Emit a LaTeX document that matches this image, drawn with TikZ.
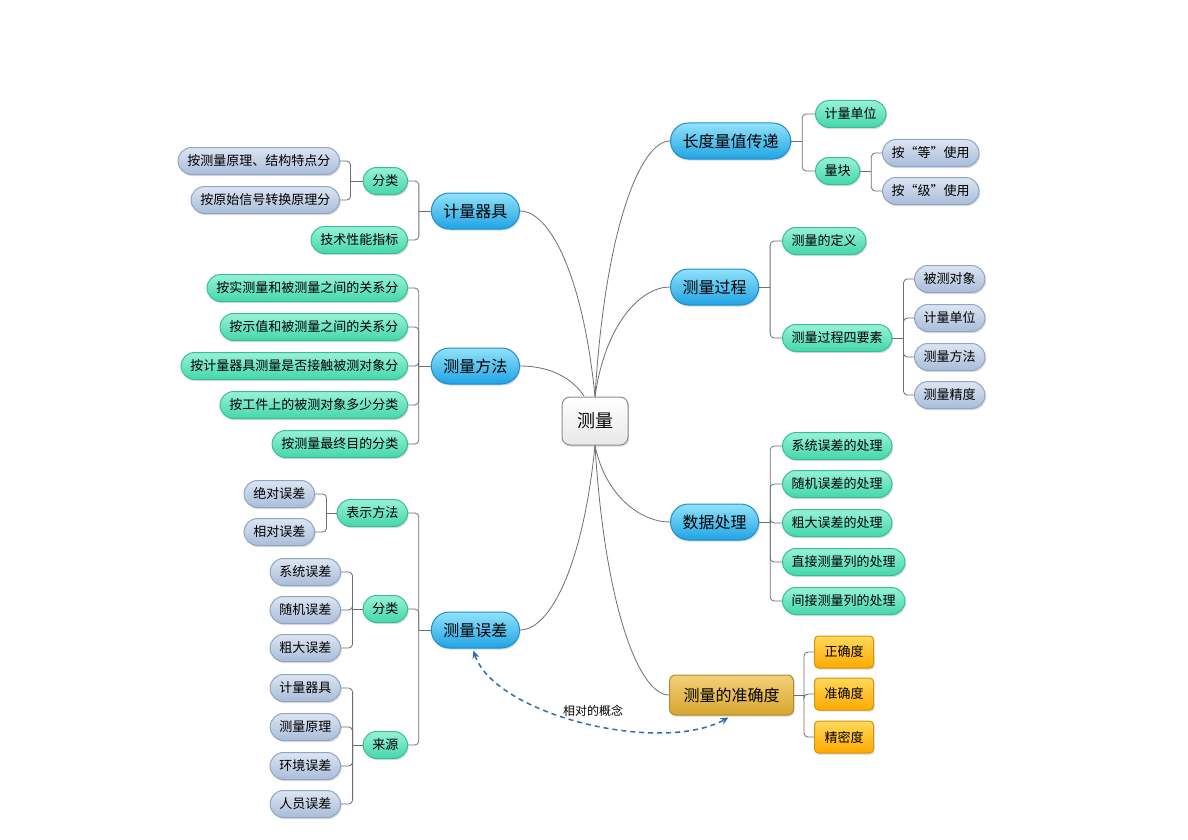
\documentclass[tikz,border=0pt]{standalone}
\usepackage{fontspec}
\newfontfamily\cjk{Noto Sans CJK SC}
\usetikzlibrary{shapes.misc,shadows,arrows.meta}
\definecolor{lnc}{HTML}{6E6E6E}
\definecolor{bluetop}{HTML}{92E2FA}
\definecolor{bluebot}{HTML}{1FA3E4}
\definecolor{blueln}{HTML}{1C8ECF}
\definecolor{greentop}{HTML}{98F2D6}
\definecolor{greenbot}{HTML}{44D6AA}
\definecolor{greenln}{HTML}{38BF95}
\definecolor{greytop}{HTML}{DCE5F2}
\definecolor{greybot}{HTML}{A9BCD9}
\definecolor{greyln}{HTML}{8FA5C6}
\definecolor{orgtop}{HTML}{FFD85A}
\definecolor{orgbot}{HTML}{FFAA00}
\definecolor{orgln}{HTML}{D3930C}
\definecolor{goldtop}{HTML}{F3D07A}
\definecolor{goldbot}{HTML}{D7A62E}
\definecolor{goldln}{HTML}{B08A30}
\definecolor{ctrln}{HTML}{8E8E8E}
\definecolor{dashc}{HTML}{2A6FAE}
\tikzset{
  base/.style={text=black, line width=1pt, inner ysep=0pt,
    drop shadow={opacity=0.28, shadow xshift=1.2pt, shadow yshift=-1.6pt}},
  bluebox/.style={base, rounded rectangle, minimum height=36pt, inner xsep=10.5pt,
    font=\cjk\fontsize{16}{18}\selectfont, top color=bluetop, bottom color=bluebot, draw=blueln},
  greenbox/.style={base, rounded rectangle, minimum height=27pt, inner xsep=7.8pt,
    font=\cjk\fontsize{13}{15}\selectfont, top color=greentop, bottom color=greenbot, draw=greenln},
  greybox/.style={base, rounded rectangle, minimum height=27pt, inner xsep=7.8pt,
    font=\cjk\fontsize{13}{15}\selectfont, top color=greytop, bottom color=greybot, draw=greyln},
  orgbox/.style={base, rectangle, rounded corners=4pt, minimum height=32pt, inner xsep=10pt,
    font=\cjk\fontsize{13}{15}\selectfont, top color=orgtop, bottom color=orgbot, draw=orgln},
  goldbox/.style={base, rectangle, rounded corners=6pt, minimum height=40pt, inner xsep=14pt,
    font=\cjk\fontsize{16}{18}\selectfont, top color=goldtop, bottom color=goldbot, draw=goldln},
  ctrbox/.style={base, rectangle, rounded corners=8pt, minimum height=48pt, minimum width=66pt,
    font=\cjk\fontsize{18}{20}\selectfont, top color=white, bottom color=black!9, draw=ctrln},
  conn/.style={draw=lnc, line width=0.8pt, rounded corners=4pt},
  mainconn/.style={draw=lnc, line width=0.8pt},
}
\begin{document}
\begin{tikzpicture}[x=1pt,y=-1pt]
\useasboundingbox (0,0) rectangle (1188,840);
% center
\node[ctrbox] (c) at (595,421) {测量};
\coordinate (cm) at (584,396);
% right side
\node[bluebox, anchor=west] (r1) at (670,141) {长度量值传递};
\node[greenbox, anchor=west] (r1a) at (815,114) {计量单位};
\node[greenbox, anchor=west] (r1b) at (815,171) {量块};
\node[greybox, anchor=west] (r1b1) at (882,153) {按“等”使用};
\node[greybox, anchor=west] (r1b2) at (882,191) {按“级”使用};

\node[bluebox, anchor=west] (r2) at (670,287) {测量过程};
\node[greenbox, anchor=west] (r2a) at (782,241) {测量的定义};
\node[greenbox, anchor=west] (r2b) at (782,338) {测量过程四要素};
\node[greybox, anchor=west] (r2b1) at (914,279) {被测对象};
\node[greybox, anchor=west] (r2b2) at (914,318) {计量单位};
\node[greybox, anchor=west] (r2b3) at (914,357) {测量方法};
\node[greybox, anchor=west] (r2b4) at (914,395) {测量精度};

\node[bluebox, anchor=west] (r3) at (670,522) {数据处理};
\node[greenbox, anchor=west] (r3a) at (782,446) {系统误差的处理};
\node[greenbox, anchor=west] (r3b) at (782,484) {随机误差的处理};
\node[greenbox, anchor=west] (r3c) at (782,523) {粗大误差的处理};
\node[greenbox, anchor=west] (r3d) at (782,562) {直接测量列的处理};
\node[greenbox, anchor=west] (r3e) at (782,601) {间接测量列的处理};

\node[goldbox, anchor=west] (r4) at (669,695) {测量的准确度};
\node[orgbox, anchor=west] (r4a) at (814,652) {正确度};
\node[orgbox, anchor=west] (r4b) at (814,694) {准确度};
\node[orgbox, anchor=west] (r4c) at (814,737) {精密度};

% left side
\node[bluebox, anchor=east] (l1) at (520,211) {计量器具};
\node[greenbox, anchor=east] (l1a) at (408,181) {分类};
\node[greenbox, anchor=east] (l1b) at (408,240) {技术性能指标};
\node[greybox, anchor=east] (l1a1) at (340,161) {按测量原理、结构特点分};
\node[greybox, anchor=east] (l1a2) at (340,200) {按原始信号转换原理分};

\node[bluebox, anchor=east] (l2) at (520,366) {测量方法};
\node[greenbox, anchor=east] (l2a) at (408,288) {按实测量和被测量之间的关系分};
\node[greenbox, anchor=east] (l2b) at (408,327) {按示值和被测量之间的关系分};
\node[greenbox, anchor=east] (l2c) at (408,366) {按计量器具测量是否接触被测对象分};
\node[greenbox, anchor=east] (l2d) at (408,405) {按工件上的被测对象多少分类};
\node[greenbox, anchor=east] (l2e) at (408,444) {按测量最终目的分类};

\node[bluebox, anchor=east] (l3) at (520,630) {测量误差};
\node[greenbox, anchor=east] (l3a) at (408,513) {表示方法};
\node[greenbox, anchor=east] (l3b) at (408,609) {分类};
\node[greenbox, anchor=east] (l3c) at (408,745) {来源};
\node[greybox, anchor=east] (l3a1) at (315,494) {绝对误差};
\node[greybox, anchor=east] (l3a2) at (315,532) {相对误差};
\node[greybox, anchor=east] (l3b1) at (341,572) {系统误差};
\node[greybox, anchor=east] (l3b2) at (341,610) {随机误差};
\node[greybox, anchor=east] (l3b3) at (341,648) {粗大误差};
\node[greybox, anchor=east] (l3c1) at (341,688) {计量器具};
\node[greybox, anchor=east] (l3c2) at (341,727) {测量原理};
\node[greybox, anchor=east] (l3c3) at (341,766) {环境误差};
\node[greybox, anchor=east] (l3c4) at (341,804) {人员误差};

% main connectors
\draw[mainconn] (c.north) .. controls (605,230) and (640,141) .. (r1.west);
\draw[mainconn] (c.north) .. controls (605,325) and (640,287) .. (r2.west);
\draw[mainconn] (c.south) .. controls (605,495) and (640,522) .. (r3.west);
\draw[mainconn] (c.south) .. controls (605,607) and (639,695) .. (r4.west);
\draw[mainconn] (c.north) .. controls (583,276) and (550,211) .. (l1.east);
\draw[mainconn] (l2.east) .. controls (550,366) and (572,378) .. (cm);
\draw[mainconn] (c.south) .. controls (583,566) and (550,630) .. (l3.east);

% right branches
\draw[mainconn] (r1.east) -- ++(11,0) coordinate (r1t);
\foreach \k in {r1a,r1b} \draw[conn] (r1t) |- (\k.west);
\draw[mainconn] (r1b.east) -- ++(11,0) coordinate (r1bt);
\foreach \k in {r1b1,r1b2} \draw[conn] (r1bt) |- (\k.west);
\draw[mainconn] (r2.east) -- ++(11,0) coordinate (r2t);
\foreach \k in {r2a,r2b} \draw[conn] (r2t) |- (\k.west);
\draw[mainconn] (r2b.east) -- ++(11,0) coordinate (r2bt);
\foreach \k in {r2b1,r2b2,r2b3,r2b4} \draw[conn] (r2bt) |- (\k.west);
\draw[mainconn] (r3.east) -- ++(11,0) coordinate (r3t);
\foreach \k in {r3a,r3b,r3c,r3d,r3e} \draw[conn] (r3t) |- (\k.west);
\draw[mainconn] (r4.east) -- ++(10,0) coordinate (r4t);
\foreach \k in {r4a,r4b,r4c} \draw[conn] (r4t) |- (\k.west);

% left branches
\draw[mainconn] (l1.west) -- ++(-12,0) coordinate (l1t);
\foreach \k in {l1a,l1b} \draw[conn] (l1t) |- (\k.east);
\draw[mainconn] (l1a.west) -- ++(-12,0) coordinate (l1at);
\foreach \k in {l1a1,l1a2} \draw[conn] (l1at) |- (\k.east);
\draw[mainconn] (l2.west) -- ++(-12,0) coordinate (l2t);
\foreach \k in {l2a,l2b,l2c,l2d,l2e} \draw[conn] (l2t) |- (\k.east);
\draw[mainconn] (l3.west) -- ++(-12,0) coordinate (l3t);
\foreach \k in {l3a,l3b,l3c} \draw[conn] (l3t) |- (\k.east);
\draw[mainconn] (l3a.west) -- ++(-10,0) coordinate (l3at);
\foreach \k in {l3a1,l3a2} \draw[conn] (l3at) |- (\k.east);
\draw[mainconn] (l3b.west) -- ++(-10,0) coordinate (l3bt);
\foreach \k in {l3b1,l3b2,l3b3} \draw[conn] (l3bt) |- (\k.east);
\draw[mainconn] (l3c.west) -- ++(-10,0) coordinate (l3ct);
\foreach \k in {l3c1,l3c2,l3c3,l3c4} \draw[conn] (l3ct) |- (\k.east);

% relation
\draw[dashc, line width=1.5pt, dash pattern=on 5pt off 4pt,
  {Stealth[length=8pt,width=7pt]}-{Stealth[length=8pt,width=7pt]}]
  ([xshift=-2pt,yshift=-2pt]l3.south) .. controls (495,715) and (660,755) .. ([xshift=-3pt,yshift=-2pt]r4.south);
\node[font=\cjk\fontsize{12}{14}\selectfont] (rel) at (593,711) {相对的概念};
\end{tikzpicture}
\end{document}
